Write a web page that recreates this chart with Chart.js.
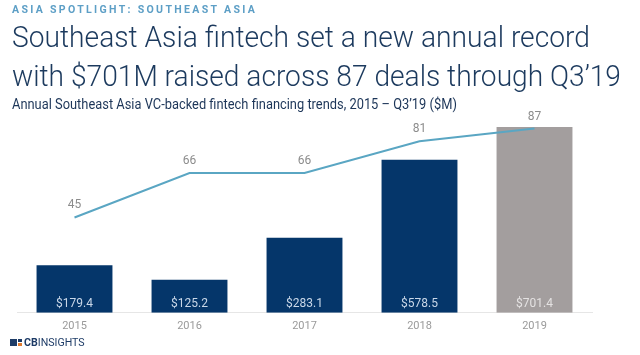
<!DOCTYPE html>
<html>
<head>
<meta charset="utf-8">
<script src="https://cdn.jsdelivr.net/npm/chart.js@4/dist/chart.umd.min.js"></script>
<style>
  html, body { margin: 0; padding: 0; background: #fff; }
  #page { position: relative; width: 640px; height: 355px; overflow: hidden; font-family: Roboto, sans-serif; }
  .txt { position: absolute; left: 12px; white-space: nowrap; line-height: 1; transform-origin: 0 0; }
  #kicker { top: 4px; font-size: 11px; font-weight: 700; letter-spacing: 2.4px; color: #5d9fc6; }
  .title { font-size: 30px; font-weight: 300; color: #1c3a5e; }
  #t1 { top: 22px; }
  #t2 { top: 61px; }
  #sub { top: 97px; font-size: 14px; color: #1c3558; }
  #chartBox { position: absolute; left: 0; top: 0; width: 640px; height: 355px; }
  #logo { position: absolute; left: 10px; top: 337px; height: 12px; }
  #logo .ico { position: absolute; left: 0; top: 2px; width: 7px; height: 7px; background: #1d3b66; }
  #logo .ico2 { position: absolute; left: 8px; top: 2px; width: 4px; height: 3px; background: #1d3b66; }
  #logo .ico3 { position: absolute; left: 8px; top: 6px; width: 4px; height: 3px; background: #e07b2f; }
  #logo .word { position: absolute; left: 14px; top: 0; font-size: 11.5px; line-height: 1; color: #1d3b66; white-space: nowrap; transform-origin: 0 0; }
</style>
</head>
<body>
<div id="page">
  <div id="chartBox"><canvas id="c" width="640" height="355"></canvas></div>
  <div class="txt" id="kicker" data-w="245">ASIA SPOTLIGHT: SOUTHEAST ASIA</div>
  <div class="txt title" id="t1" data-w="578">Southeast Asia fintech set a new annual record</div>
  <div class="txt title" id="t2" data-w="609">with $701M raised across 87 deals through Q3’19</div>
  <div class="txt" id="sub" data-w="445">Annual Southeast Asia VC-backed fintech financing trends, 2015 – Q3’19 ($M)</div>
  <div id="logo">
    <div class="ico"></div><div class="ico2"></div><div class="ico3"></div>
    <div class="word" data-w="61"><b>CB</b>INSIGHTS</div>
  </div>
</div>
<script>
const years = ['2015', '2016', '2017', '2018', '2019'];
const fundingM = [179.4, 125.2, 283.1, 578.5, 701.4];
const dealCounts = [45, 66, 66, 81, 87];

// squeeze the header texts to the widths seen in the picture
document.querySelectorAll('[data-w]').forEach(el => {
  const w = el.scrollWidth;
  const target = +el.dataset.w;
  el.style.transform = 'scaleX(' + (target / w) + ')';
});

Chart.defaults.font.family = 'Roboto';

const labelPlugin = {
  id: 'valueLabels',
  afterDatasetsDraw(chart) {
    const ctx = chart.ctx;
    const area = chart.chartArea;
    ctx.save();
    ctx.textAlign = 'center';
    ctx.textBaseline = 'middle';
    chart.data.datasets.forEach((ds, i) => {
      const meta = chart.getDatasetMeta(i);
      meta.data.forEach((el, j) => {
        if (ds.type === 'bar') {
          ctx.font = '12px Roboto';
          ctx.fillStyle = j === years.length - 1 ? '#e4e2e2' : '#c9d7e8';
          ctx.fillText('$' + ds.data[j].toFixed(1), el.x, area.bottom - 9);
        } else {
          ctx.font = '12px Roboto';
          ctx.fillStyle = '#8c8c8c';
          ctx.fillText(String(ds.data[j]), el.x, el.y - 12);
        }
      });
    });
    ctx.restore();
  }
};

new Chart(document.getElementById('c'), {
  data: {
    labels: years,
    datasets: [
      {
        type: 'line',
        data: dealCounts,
        yAxisID: 'y1',
        borderColor: '#5aa6c3',
        borderWidth: 2,
        pointRadius: 0,
        tension: 0,
        order: 0
      },
      {
        type: 'bar',
        data: fundingM,
        yAxisID: 'y',
        backgroundColor: years.map((y, i) => i === years.length - 1 ? '#a39e9e' : '#05366a'),
        barPercentage: 0.66,
        categoryPercentage: 1,
        order: 1
      }
    ]
  },
  options: {
    responsive: false,
    animation: false,
    layout: { padding: { top: 101, left: 17, right: 48, bottom: 15 } },
    plugins: { legend: { display: false }, tooltip: { enabled: false } },
    scales: {
      x: {
        grid: { display: false, drawTicks: false },
        border: { display: true, color: '#e6e6e6', width: 1 },
        ticks: { color: '#9a9a9a', font: { size: 11 }, padding: 7 }
      },
      y: { display: false, min: 0, max: 800 },
      y1: { display: false, min: 0, max: 100 }
    }
  },
  plugins: [labelPlugin]
});
</script>
</body>
</html>
